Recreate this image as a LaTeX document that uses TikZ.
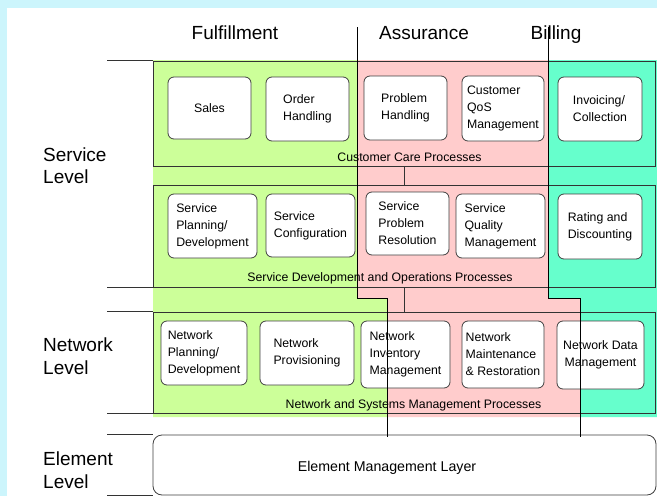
\documentclass[tikz,border=0pt]{standalone}
\usepackage{fontspec}
\setmainfont{Liberation Sans}
\definecolor{tmf_bg}{RGB}{204,245,252}
\definecolor{tmf_green}{RGB}{204,255,153}
\definecolor{tmf_pink}{RGB}{255,204,204}
\definecolor{tmf_teal}{RGB}{102,255,204}
\usepackage{tikz}
\usetikzlibrary{positioning, calc}

\begin{document}
\begin{tikzpicture}[x=1pt, y=-1pt,
        proc/.style={rectangle, draw=black!75, fill=white, rounded corners=6pt, align=left,
                     inner sep=0pt, line width=0.8pt, font=\fontsize{12.3}{17}\selectfont},
        layer/.style={rectangle, draw=black!80, line width=0.8pt},
        plab/.style={anchor=base, font=\fontsize{12.3}{15}\selectfont},
        hdr/.style={anchor=base, font=\fontsize{19}{22}\selectfont},
        lvl/.style={anchor=west, align=left, inner sep=0pt, font=\fontsize{19}{22.5}\selectfont},
        tick/.style={draw=black!80, line width=0.8pt},
        part/.style={draw=black, line width=0.8pt},
      ]
        % frame
        \fill[tmf_bg] (0,0) rectangle (657,496);
        \fill[white] (7,8) rectangle (657,496);
        \useasboundingbox (0,0) rectangle (657,496);

        % process columns
        \fill[tmf_green] (153,60) -- (358,60) -- (358,298.5) -- (387,298.5) -- (387,417) -- (153,417) -- cycle;
        \fill[tmf_pink]  (358,60) -- (548,60) -- (548,298.5) -- (580,298.5) -- (580,417) -- (387,417)
                         -- (387,298.5) -- (358,298.5) -- cycle;
        \fill[tmf_teal]  (548,60) -- (657,60) -- (657,417) -- (580,417) -- (580,298.5) -- (548,298.5) -- cycle;

        \node[hdr] (ful) at (235,39) {Fulfillment};
        \node[hdr] (ass) at (424,39) {Assurance};
        \node[hdr] (bil) at (556,39) {Billing};

        % layers
        \node[layer, minimum width=502, minimum height=105] (care) at (404,113.5) {};
        \node[layer, minimum width=502, minimum height=102] (sdo)  at (404,236)   {};
        \node[layer, minimum width=502, minimum height=101] (nsm)  at (404,362.5) {};
        \node[proc, rounded corners=9pt, minimum width=503, minimum height=60] (eml) at (404.5,465) {};

        \node[plab] (careLab) at (409.5,161) {Customer Care Processes};
        \node[plab] (sdoLab)  at (380,281)   {Service Development and Operations Processes};
        \node[plab] (nsmLab)  at (413.5,408) {Network and Systems Management Processes};
        \node[anchor=base, font=\fontsize{14.2}{17}\selectfont] (emlLab) at (387,471) {Element Management Layer};

        \draw[tick] (care.south) -- (sdo.north);
        \draw[tick] (sdo.south) -- (nsm.north);

        % customer care
        \node[proc, minimum width=83, minimum height=62] (sales) at (209.5,108)   {Sales};
        \node[proc, minimum width=83, minimum height=64] (order) at (307.5,109)   {Order\\Handling};
        \node[proc, minimum width=83, minimum height=64] (probh) at (405.5,108)   {Problem\\Handling};
        \node[proc, minimum width=82, minimum height=65] (cqos)  at (503,108.5)   {Customer\\QoS\\Management};
        \node[proc, minimum width=84, minimum height=64] (invc)  at (600,109)     {Invoicing/\\Collection};

        % service development and operations
        \node[proc, minimum width=89, minimum height=64] (spd)   at (212.5,226)   {Service\\Planning/\\Development};
        \node[proc, minimum width=89, minimum height=63] (scfg)  at (310.5,225.5) {Service\\Configuration};
        \node[proc, minimum width=83, minimum height=63] (spr)   at (407.5,223.5) {Service\\Problem\\Resolution};
        \node[proc, minimum width=89, minimum height=64] (sqm)   at (500.5,226)   {Service\\Quality\\Management};
        \node[proc, minimum width=84, minimum height=65] (rate)  at (600,226.5)   {Rating and\\Discounting};

        % network and systems management
        \node[proc, minimum width=86, minimum height=64] (npd)   at (204,353)     {Network\\Planning/\\Development};
        \node[proc, minimum width=94, minimum height=64] (nprov) at (307,353)     {Network\\Provisioning};
        \node[proc, minimum width=89, minimum height=67] (ninv)  at (405.5,354.5) {Network\\Inventory\\Management};
        \node[proc, minimum width=82, minimum height=67] (nmr)   at (503,354.5)   {Network\\Maintenance\\\& Restoration};
        \node[proc, minimum width=87, minimum height=68, align=center] (ndm) at (600.5,355) {Network Data\\Management};

        % column dividers
        \draw[part] (357.5,27) |- (387,298.5) -- (387,437);
        \draw[part] (548,27) |- (580,298.5) -- (580,437);

        % levels
        \node[lvl] (svcLvl) at (43,165.5) {Service\\Level};
        \node[lvl] (netLvl) at (43,356)   {Network\\Level};
        \node[lvl] (elmLvl) at (43,470)   {Element\\Level};

        \draw[tick] (care.north west) -- ++(-46,0);
        \draw[tick] (sdo.south west) -- ++(-46,0);
        \draw[tick] (nsm.north west) -- ++(-46,0);
        \draw[tick] (nsm.south west) -- ++(-46,0);
        \draw[tick] (eml.north west) -- ++(-46,0);
        \draw[tick] (eml.south west) -- ++(-46,0);
      \end{tikzpicture}
\end{document}
